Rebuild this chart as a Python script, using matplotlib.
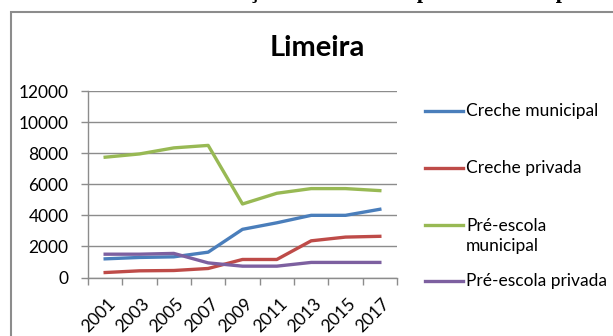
import numpy as np
import matplotlib
matplotlib.use("Agg")
from matplotlib import pyplot as plt
from matplotlib.patches import Rectangle
from matplotlib.lines import Line2D
from matplotlib.transforms import ScaledTranslation

# Matriculas em Limeira, 2001-2017
anos = ["2001", "2003", "2005", "2007", "2009", "2011", "2013", "2015", "2017"]
creche_municipal = [1200, 1290, 1330, 1630, 3100, 3520, 4000, 4000, 4390]
creche_privada = [320, 430, 450, 580, 1160, 1160, 2360, 2600, 2650]
pre_municipal = [7740, 7950, 8340, 8500, 4730, 5420, 5720, 5720, 5590]
pre_privada = [1500, 1500, 1550, 940, 730, 730, 970, 970, 970]

series = [creche_municipal, creche_privada, pre_municipal, pre_privada]
rotulos = ["Creche municipal", "Creche privada", "Pré-escola\nmunicipal", "Pré-escola privada"]
cores = ["#4A7EBB", "#BE4B48", "#98B954", "#7D60A0"]

W, H = 613, 336
fig = plt.figure(figsize=(W / 100, H / 100), dpi=100)
plt.rcParams["font.family"] = ["Lato", "DejaVu Sans"]

# heading above the chart box (mostly out of frame)
fig.text(55 / W, 1 + 2 / H, "Matrículas na educação infantil: rede pública e rede privada",
         family="Liberation Serif", weight="bold", fontsize=16, va="baseline", ha="left")

# chart area border
fig.patches.append(Rectangle((10.5 / W, -0.1), 1.0, 1.1 - 12 / H, transform=fig.transFigure,
                             fill=False, edgecolor="#8c8c8c", linewidth=1.5))

ax = fig.add_axes([88 / W, 1 - 277.5 / H, 309 / W, 186.5 / H])
x = np.arange(len(anos))
for valores, cor in zip(series, cores):
    ax.plot(x, valores, color=cor, linewidth=2.4, solid_joinstyle="round")

ax.set_xlim(-0.5, len(anos) - 0.5)
ax.set_ylim(0, 12000)
ax.set_yticks(np.arange(0, 12001, 2000))
ax.yaxis.grid(True, color="#8c8c8c", linewidth=1)
ax.set_axisbelow(True)

ax.set_xticks(np.arange(-0.5, len(anos)), labels=[])
ax.set_xticks(x, labels=anos, minor=True)
ax.tick_params(axis="x", which="major", length=5, color="#8c8c8c", width=1)
ax.tick_params(axis="x", which="minor", length=0, pad=13, labelsize=12.5)
desloc = ScaledTranslation(2 / 100, 0, fig.dpi_scale_trans)
for lbl in ax.get_xticklabels(minor=True):
    lbl.set_rotation(45)
    lbl.set_ha("right")
    lbl.set_va("top")
    lbl.set_rotation_mode("anchor")
    lbl.set_transform(lbl.get_transform() + desloc)
ax.tick_params(axis="y", length=5, color="#8c8c8c", width=1, labelsize=12.5, pad=9)

for lado in ["top", "right"]:
    ax.spines[lado].set_visible(False)
for lado in ["left", "bottom"]:
    ax.spines[lado].set_color("#8c8c8c")
    ax.spines[lado].set_linewidth(1)

fig.text(317 / W, 1 - 48 / H, "Limeira", fontsize=21, weight="bold", ha="center", va="center")

# legend drawn by hand
legenda_y = [111, 168, 225, 281]
for rot, cor, yy in zip(rotulos, cores, legenda_y):
    yf = 1 - yy / H
    fig.add_artist(Line2D([425 / W, 463 / W], [yf, yf], color=cor, linewidth=2.4,
                          transform=fig.transFigure))
    if "\n" in rot:
        yf = 1 - (yy + 11) / H
    fig.text(466 / W, yf, rot, fontsize=12.5, va="center", ha="left", linespacing=1.25)

fig.savefig("out.png", dpi=100)
